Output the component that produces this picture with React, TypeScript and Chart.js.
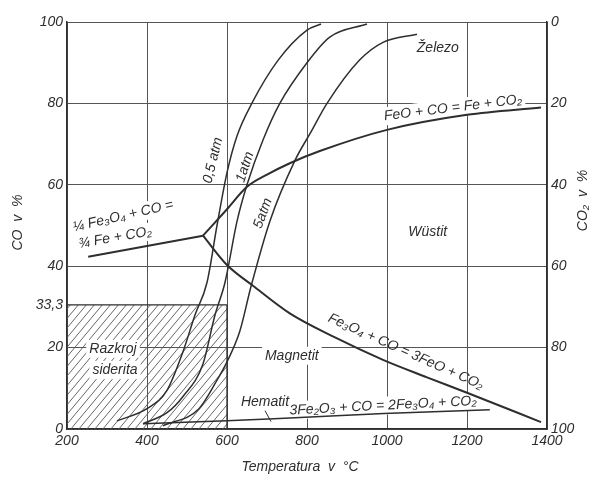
import React, { useEffect, useRef } from 'react';
import { Chart, registerables } from 'chart.js';

Chart.register(...registerables);

// Axis ticks
const tempTicks = [200, 400, 600, 800, 1000, 1200, 1400];
const coTicks = [0, 20, 30.5, 40, 60, 80, 100];
const coTickLabels = ['0', '20', '33,3', '40', '60', '80', '100'];
const co2Ticks = [0, 20, 40, 60, 80, 100];

// Series: [temperature °C, CO %]
const boudouard05: [number, number][] = [[325, 2], [400, 5], [450, 9.5], [490, 19], [520, 28], [550, 36], [575, 50], [600, 63], [625, 72], [662, 80], [727, 90.5], [800, 98], [835, 99.5]];
const boudouard1: [number, number][] = [[390, 1.3], [450, 4], [490, 8], [540, 16], [570, 28], [595, 36], [625, 51], [650, 60], [690, 71], [732, 80], [800, 90], [857, 96.3], [950, 99.5]];
const boudouard5: [number, number][] = [[440, 0.8], [530, 5], [575, 12], [600, 16.5], [632, 24], [660, 35], [707, 51], [770, 66], [810, 73], [850, 80], [932, 90.7], [990, 95], [1075, 97]];
const magnetiteIron: [number, number][] = [[253, 42.3], [540, 47.5]];
const wustiteIron: [number, number][] = [[540, 47.5], [600, 54], [650, 59.5], [700, 62.5], [757, 65.3], [832, 68.3], [1000, 73.5], [1200, 77.2], [1385, 79]];
const magnetiteWustite: [number, number][] = [[540, 47.5], [600, 40.3], [665, 35.2], [757, 28.4], [870, 22.5], [990, 17], [1100, 12.7], [1200, 8.9], [1385, 1.7]];
const hematiteMagnetite: [number, number][] = [[390, 1.3], [600, 2], [757, 2.7], [992, 3.8], [1257, 4.7]];

// Hatched siderite decomposition zone
const sideriteT = [200, 600];
const sideriteCO = [0, 30.5];

// Labels: text, temperature, CO %, rotation (deg)
const labelTexts = ['0,5 atm', '1atm', '5atm', 'Železo', 'FeO + CO = Fe + CO₂', '¼ Fe₃O₄ + CO =', '¾ Fe + CO₂', 'Wüstit', 'Fe₃O₄ + CO = 3FeO + CO₂', 'Magnetit', 'Hematit', '3Fe₂O₃ + CO = 2Fe₃O₄ + CO₂', 'Razkroj', 'siderita'];
const labelT = [565, 645, 690, 1127, 1165, 340, 320, 1102, 1047, 762, 695, 990, 315, 320];
const labelCO = [66, 64.4, 53, 93.6, 78.9, 52.3, 47, 48.4, 19, 18, 6.6, 5.7, 19.7, 14.5];
const labelRot = [-76, -72, -70, 0, -7, -13, -10, 0, 24, 0, 0, -3, 0, 0];
const labelBg = [false, false, false, true, true, true, true, true, false, true, true, true, true, true];

const INK = '#2e2e2e';
const FONT = "italic 14px 'Liberation Sans', 'DejaVu Sans', sans-serif";
const TICK_FONT = { family: "'Liberation Sans', sans-serif", size: 14, style: 'italic' as const };

const pts = (a: [number, number][]) => a.map(([x, y]) => ({ x, y }));

const decorPlugin = {
  id: 'decor',
  beforeDatasetsDraw(chart: any) {
    const { ctx, scales } = chart;
    const x = scales.x, y = scales.y;
    const l = x.getPixelForValue(sideriteT[0]);
    const r = x.getPixelForValue(sideriteT[1]);
    const t = y.getPixelForValue(sideriteCO[1]);
    const b = y.getPixelForValue(sideriteCO[0]);
    ctx.save();
    ctx.beginPath();
    ctx.rect(l, t, r - l, b - t);
    ctx.clip();
    ctx.beginPath();
    const h = b - t;
    for (let k = -h; k < r - l + 10; k += 8) {
      ctx.moveTo(l + k, b);
      ctx.lineTo(l + k + h / 1.2, t);
    }
    ctx.strokeStyle = '#555';
    ctx.lineWidth = 0.9;
    ctx.stroke();
    ctx.restore();
    ctx.save();
    ctx.beginPath();
    ctx.moveTo(l, t);
    ctx.lineTo(r, t);
    ctx.moveTo(r, t);
    ctx.lineTo(r, b);
    ctx.strokeStyle = INK;
    ctx.lineWidth = 1.3;
    ctx.stroke();
    // white backgrounds under labels
    ctx.font = FONT;
    labelTexts.forEach((txt, i) => {
      if (!labelBg[i]) return;
      const px = x.getPixelForValue(labelT[i]);
      const py = y.getPixelForValue(labelCO[i]);
      const w = ctx.measureText(txt).width;
      ctx.save();
      ctx.translate(px, py);
      ctx.rotate((labelRot[i] * Math.PI) / 180);
      ctx.fillStyle = '#fff';
      ctx.fillRect(-w / 2 - 3, -9, w + 6, 18);
      ctx.restore();
    });
    ctx.restore();
  },
  afterDatasetsDraw(chart: any) {
    const { ctx, scales, chartArea } = chart;
    const x = scales.x, y = scales.y;
    ctx.save();
    ctx.font = FONT;
    ctx.fillStyle = INK;
    ctx.textAlign = 'center';
    ctx.textBaseline = 'middle';
    labelTexts.forEach((txt, i) => {
      const px = x.getPixelForValue(labelT[i]);
      const py = y.getPixelForValue(labelCO[i]);
      ctx.save();
      ctx.translate(px, py);
      ctx.rotate((labelRot[i] * Math.PI) / 180);
      ctx.fillText(txt, 0, 0);
      ctx.restore();
    });
    // hematite pointer
    const hx = x.getPixelForValue(695), hy = y.getPixelForValue(4.5);
    const hx2 = x.getPixelForValue(710), hy2 = y.getPixelForValue(1.8);
    ctx.beginPath();
    ctx.moveTo(hx, hy);
    ctx.lineTo(hx2, hy2);
    ctx.strokeStyle = INK;
    ctx.lineWidth = 1;
    ctx.stroke();
    // axis titles
    const midY = (chartArea.top + chartArea.bottom) / 2;
    ctx.save();
    ctx.translate(18, midY - 3);
    ctx.rotate(-Math.PI / 2);
    ctx.fillText('CO  v  %', 0, 0);
    ctx.restore();
    ctx.save();
    ctx.translate(chart.width - 10, midY - 25);
    ctx.rotate(-Math.PI / 2);
    ctx.fillText('CO₂  v  %', 0, 0);
    ctx.restore();
    ctx.fillText('Temperatura  v  °C', (chartArea.left + chartArea.right) / 2 - 7, chart.height - 10);
    ctx.restore();
  },
};

export default function App() {
  const ref = useRef<HTMLCanvasElement>(null);
  useEffect(() => {
    if (!ref.current) return;
    const heavy = { borderColor: INK, borderWidth: 2, pointRadius: 0, fill: false, cubicInterpolationMode: 'monotone' as const };
    const light = { ...heavy, borderWidth: 1.5 };
    const chart = new Chart(ref.current, {
      type: 'line',
      data: {
        datasets: [
          { label: '0,5 atm', data: pts(boudouard05), ...light },
          { label: '1 atm', data: pts(boudouard1), ...light },
          { label: '5 atm', data: pts(boudouard5), ...light },
          { label: 'Fe3O4-Fe', data: pts(magnetiteIron), ...heavy },
          { label: 'FeO-Fe', data: pts(wustiteIron), ...heavy },
          { label: 'Fe3O4-FeO', data: pts(magnetiteWustite), ...heavy },
          { label: 'Fe2O3-Fe3O4', data: pts(hematiteMagnetite), ...light },
        ],
      },
      options: {
        responsive: false,
        animation: false,
        layout: { padding: { top: 22, left: 0, right: 0, bottom: 0 } },
        plugins: { legend: { display: false }, tooltip: { enabled: false } },
        scales: {
          x: {
            type: 'linear',
            min: 200,
            max: 1400,
            afterBuildTicks: (s: any) => { s.ticks = tempTicks.map((v) => ({ value: v })); },
            afterFit: (s: any) => { s.height = 48; },
            ticks: { color: INK, font: TICK_FONT, padding: 4, maxRotation: 0, callback: (v: any) => String(v) },
            grid: { color: '#555', lineWidth: 1, drawTicks: false },
            border: { color: INK, width: 1.5 },
          },
          y: {
            type: 'linear',
            position: 'left',
            min: 0,
            max: 100,
            afterBuildTicks: (s: any) => { s.ticks = coTicks.map((v) => ({ value: v })); },
            afterFit: (s: any) => { s.width = 67; },
            ticks: {
              color: INK,
              font: TICK_FONT,
              padding: 4,
              callback: (v: any) => coTickLabels[coTicks.indexOf(Number(v))] ?? '',
            },
            grid: {
              color: (c: any) => (c.tick && c.tick.value === 30.5 ? 'rgba(0,0,0,0)' : '#555'),
              lineWidth: 1,
              drawTicks: false,
            },
            border: { color: INK, width: 1.5 },
          },
          y2: {
            type: 'linear',
            position: 'right',
            min: 0,
            max: 100,
            reverse: true,
            afterBuildTicks: (s: any) => { s.ticks = co2Ticks.map((v) => ({ value: v })); },
            afterFit: (s: any) => { s.width = 46; },
            ticks: { color: INK, font: TICK_FONT, padding: 4, callback: (v: any) => String(v) },
            grid: { display: false, drawTicks: false },
            border: { color: INK, width: 1.5 },
          },
        },
      },
      plugins: [decorPlugin],
    } as any);
    return () => chart.destroy();
  }, []);
  return (
    <div style={{ position: 'absolute', left: 0, top: 0, background: '#fff' }}>
      <canvas ref={ref} width={593} height={477} style={{ display: 'block' }} />
    </div>
  );
}
